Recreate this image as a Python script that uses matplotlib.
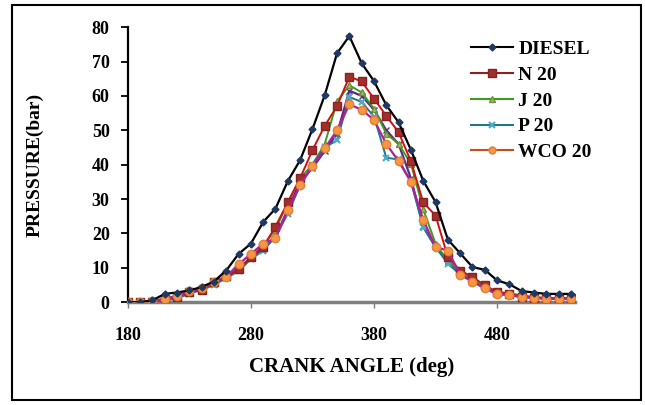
import matplotlib.pyplot as plt
from matplotlib.lines import Line2D
from matplotlib.patches import Rectangle

angle = list(range(180, 550, 10))

diesel = [0, 0, 0.5, 2.4, 2.8, 3.4, 4.4, 6, 9.2, 14, 17, 23.3, 27.2, 35.2, 41.3, 50.3,
          60.2, 72.4, 77.4, 69.5, 64.3, 57.3, 52.3, 44.3, 35.3, 29.1, 18.2, 14.2, 10.2,
          9.4, 6.3, 5.2, 3.2, 2.8, 2.4, 2.4, 2.4]
n20 = [0, 0, 0, 1, 1.5, 3, 3.4, 6, 7.5, 9.5, 13, 16, 22, 29, 36, 44.2, 51.3, 57,
       65.6, 64.2, 59.2, 54.2, 49.4, 41, 29, 25.2, 13.1, 9.2, 7.3, 4.9, 2.9, 2.5, 1.6,
       1.3, 1.1, 1.1, 1.1]
j20 = [0, 0, 0, 1, 1.5, 3, 4, 5.5, 7.5, 10, 13, 16.5, 21, 29, 36, 40, 46, 58.4,
       63.1, 61, 56.3, 49, 46, 40.3, 27, 17, 12, 9, 6.5, 4.5, 3, 2.5, 2, 1.5, 1.2,
       1.2, 1.2]
s4 = [0, 0, 0, 0.8, 1.3, 2.8, 3.8, 5.3, 7.2, 9.5, 12.8, 15.5, 19, 27, 35, 39, 44,
      49, 61.5, 60, 56, 50, 46, 36, 22, 16, 12, 8.5, 6.3, 4.2, 2.7, 2.2, 1.6, 1.3,
      1.1, 1.1, 1.1]
p20 = [0, 0, 0, 0.5, 1, 2.5, 3.5, 5, 7, 9, 12.5, 15, 19, 25.7, 34, 40, 45, 47.1,
       59.7, 58.2, 54, 42, 41.5, 35, 21.8, 16, 11.2, 8, 6, 4, 2.5, 2, 1.5, 1.2, 1,
       1, 1]
wco20 = [0, 0, 0.3, 1, 1.8, 3.2, 4, 5.8, 7.4, 11, 14, 17, 18.6, 26.8, 34, 39.5,
         44.7, 50, 57.5, 56, 53, 46, 41, 35, 24, 16, 15, 8, 6, 4, 2.3, 2, 1.5, 1.3,
         1, 1, 1]

plt.rcParams["font.family"] = ["Liberation Serif", "DejaVu Serif"]
plt.rcParams["font.weight"] = "bold"

fig = plt.figure(figsize=(6.45, 4.05), dpi=100)
ax = fig.add_axes([0.198, 0.254, 0.693, 0.679])

ax.plot(angle, diesel, color="black", lw=1.6, marker="D", ms=3.5,
        mfc="#1F3864", mec="#1F3864", zorder=6)
ax.plot(angle, n20, color="#D01010", lw=1.4, marker="s", ms=6,
        mfc="#A0302D", mec="#8B2020", zorder=5)
ax.plot(angle, j20, color="#3C9A1E", lw=1.4, marker="^", ms=5,
        mfc="#9BBB59", mec="#6F8F3A", zorder=4)
ax.plot(angle, s4, color="#5B2A86", lw=1.6, marker="x", ms=5,
        mec="#5B2A86", zorder=3)
ax.plot(angle, p20, color="#23758F", lw=1.4, marker="x", ms=5,
        mec="#4BACC6", mew=1.5, zorder=4)
ax.plot(angle, wco20, color="#B0209A", lw=1.6, marker="o", ms=6,
        mfc="#F79646", mec="#E08030", zorder=5)

ax.set_xlim(180, 543)
ax.set_ylim(0, 80)
ax.set_xticks([180, 280, 380, 480])
ax.set_yticks(range(0, 81, 10))

ax.spines["top"].set_visible(False)
ax.spines["right"].set_visible(False)
ax.spines["left"].set_linewidth(1.6)
ax.spines["bottom"].set_color("#7F7F7F")
ax.spines["bottom"].set_linewidth(2.5)
ax.tick_params(axis="y", direction="out", length=5, width=1.3, labelsize=13, pad=8)
ax.tick_params(axis="x", direction="out", length=4, width=1, color="#7F7F7F",
               labelsize=13, pad=14)

ax.set_xlabel("CRANK ANGLE (deg)", fontsize=15, fontweight="bold", labelpad=9)
ax.set_ylabel("PRESSURE(bar)", fontsize=14, fontweight="bold", labelpad=35)

handles = [
    Line2D([], [], color="black", marker="D", ms=3.5, mfc="#1F3864", mec="#1F3864"),
    Line2D([], [], color="#8B2020", marker="s", ms=6, mfc="#A0302D", mec="#8B2020"),
    Line2D([], [], color="#3C9A1E", marker="^", ms=5, mfc="#9BBB59", mec="#6F8F3A"),
    Line2D([], [], color="#23758F", marker="x", ms=5, mec="#4BACC6", mew=1.5),
    Line2D([], [], color="#C05020", marker="o", ms=5, mfc="#F79646", mec="#E08030"),
]
labels = ["DIESEL", "N 20", "J 20", "P 20", "WCO 20"]
ax.legend(handles, labels, loc="upper left", bbox_to_anchor=(0.728, 1.015),
          frameon=False, handlelength=2.2, handletextpad=0.25,
          labelspacing=0.42, prop={"weight": "bold", "size": 14})

fig.patches.append(Rectangle((12 / 645, 5 / 405), 629 / 645, 395 / 405,
                             transform=fig.transFigure, fill=False,
                             edgecolor="black", lw=1.5))

fig.savefig("out.png", dpi=100)
